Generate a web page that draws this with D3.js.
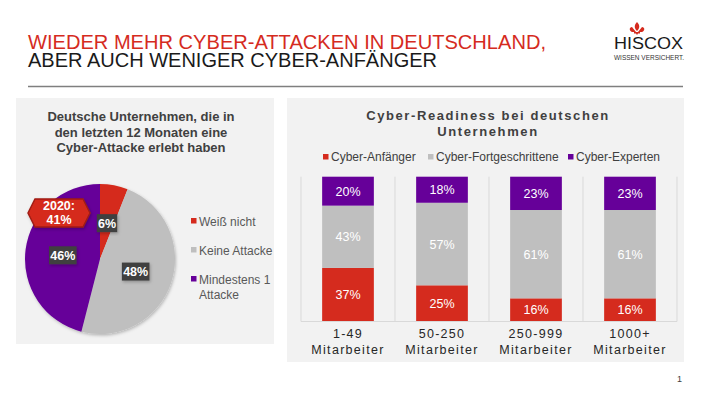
<!DOCTYPE html>
<html>
<head>
<meta charset="utf-8">
<script src="https://cdn.jsdelivr.net/npm/d3@7"></script>
<style>
  html, body { margin: 0; padding: 0; background: #fff; }
  svg { display: block; font-family: "Liberation Sans", Arial, sans-serif; }
</style>
</head>
<body>
<svg id="chart" width="710" height="399"></svg>
<script>
// pie: share of companies with a cyber attack in last 12 months
const pieLabels = ['Weiß nicht', 'Keine Attacke', 'Mindestens 1 Attacke'];
const pieValues = [6, 48, 46];
const pieColors = ['#d52b1e', '#bfbfbf', '#660099'];

// stacked bars: cyber readiness by company size
const sizeClasses = ['1-49', '50-250', '250-999', '1000+'];
const readinessSeries = ['Cyber-Anfänger', 'Cyber-Fortgeschrittene', 'Cyber-Experten'];
const anfaenger = [37, 25, 16, 16];
const fortgeschrittene = [43, 57, 61, 61];
const experten = [20, 18, 23, 23];
const barColors = ['#d52b1e', '#bfbfbf', '#660099'];

const svg = d3.select('#chart');

// header
svg.append('text').attr('x', 28).attr('y', 49)
  .attr('font-size', 20).attr('fill', '#d52b1e')
  .attr('textLength', 518).attr('lengthAdjust', 'spacingAndGlyphs')
  .text('WIEDER MEHR CYBER-ATTACKEN IN DEUTSCHLAND,');
svg.append('text').attr('x', 28).attr('y', 67)
  .attr('font-size', 20).attr('fill', '#1a1a1a')
  .attr('textLength', 409).attr('lengthAdjust', 'spacingAndGlyphs')
  .text('ABER AUCH WENIGER CYBER-ANFÄNGER');
svg.append('line').attr('x1', 28).attr('x2', 683).attr('y1', 86.5).attr('y2', 86.5)
  .attr('stroke', '#7f7f7f').attr('stroke-width', 1.5);

// logo
const logo = svg.append('g');
logo.append('path')
  .attr('d', 'M637,22 C634,25 634,28 637,31 C640,28 640,25 637,22 Z M632,27 C629,27 629,31 632,32 L636,32 Z M642,27 C645,27 645,31 642,32 L638,32 Z M634,32 L640,32 L640,33.5 L634,33.5 Z M636,33.5 L638,33.5 L637,35 Z')
  .attr('fill', '#d52b1e');
logo.append('text').attr('x', 614).attr('y', 49)
  .attr('font-size', 16).attr('fill', '#1a1a1a')
  .attr('textLength', 69).attr('lengthAdjust', 'spacingAndGlyphs')
  .text('HISCOX');
logo.append('text').attr('x', 614).attr('y', 60)
  .attr('font-size', 7.5).attr('fill', '#333')
  .attr('textLength', 70).attr('lengthAdjust', 'spacingAndGlyphs')
  .text('WISSEN VERSICHERT.');

// soft shadow for pie and label boxes
const defs = svg.append('defs');
const sh = defs.append('filter').attr('id', 'shadow').attr('x', '-20%').attr('y', '-20%').attr('width', '140%').attr('height', '140%');
sh.append('feDropShadow').attr('dx', 1).attr('dy', 1.5).attr('stdDeviation', 1.5).attr('flood-color', '#000').attr('flood-opacity', 0.25);

// panels
svg.append('rect').attr('x', 16).attr('y', 98).attr('width', 258).attr('height', 246).attr('fill', '#f2f2f2');
svg.append('rect').attr('x', 287).attr('y', 98).attr('width', 397).attr('height', 264).attr('fill', '#f2f2f2');

// ---- pie ----
const pieTitle = ['Deutsche Unternehmen, die in', 'den letzten 12 Monaten eine', 'Cyber-Attacke erlebt haben'];
svg.append('g').selectAll('text').data(pieTitle).join('text')
  .attr('x', 141).attr('y', (d, i) => 121 + i * 15.5)
  .attr('text-anchor', 'middle').attr('font-size', 13).attr('font-weight', 'bold')
  .attr('fill', '#404040').text(d => d);

const radius = 75;
const pieG = svg.append('g').attr('transform', 'translate(100,259)');
const pie = d3.pie().sort(null).value(d => d)(pieValues);
const arc = d3.arc().innerRadius(0).outerRadius(radius);
pieG.append('g').attr('filter', 'url(#shadow)')
  .selectAll('path').data(pie).join('path')
  .attr('d', arc).attr('fill', (d, i) => pieColors[i]);

pie.forEach(d => {
  const [cx, cy] = arc.centroid(d);
  const label = d.data + '%';
  const w = label.length * 7.2 + 6;
  const g = pieG.append('g').attr('transform', `translate(${cx},${cy + 1})`);
  g.append('rect').attr('x', -w / 2).attr('y', -9).attr('width', w).attr('height', 18)
    .attr('fill', '#404040').attr('filter', 'url(#shadow)');
  g.append('text').attr('y', 4.5).attr('text-anchor', 'middle')
    .attr('font-size', 12.5).attr('font-weight', 'bold').attr('fill', '#fff').text(label);
});

// 2020 callout
const callout = svg.append('g').attr('transform', 'translate(59,213)');
callout.append('path')
  .attr('d', 'M-31,0 L-24,-14 L24,-14 L31,0 L24,14 L-24,14 Z')
  .attr('fill', '#d52b1e').attr('stroke', '#a11d14').attr('stroke-width', 1.5)
  .attr('filter', 'url(#shadow)');
callout.append('text').attr('y', -3).attr('text-anchor', 'middle')
  .attr('font-size', 12.5).attr('font-weight', 'bold').attr('fill', '#fff').text('2020:');
callout.append('text').attr('y', 11).attr('text-anchor', 'middle')
  .attr('font-size', 12.5).attr('font-weight', 'bold').attr('fill', '#fff').text('41%');

// pie legend
const pieLegendRows = [['Weiß nicht'], ['Keine Attacke'], ['Mindestens 1', 'Attacke']];
const pieLegendY = [221, 250, 279];
const pl = svg.append('g');
pieLegendRows.forEach((lines, i) => {
  pl.append('rect').attr('x', 191).attr('y', pieLegendY[i] - 3).attr('width', 5.5).attr('height', 5.5)
    .attr('fill', pieColors[i]);
  lines.forEach((t, j) => {
    pl.append('text').attr('x', 199).attr('y', pieLegendY[i] + 4.5 + j * 15)
      .attr('font-size', 12).attr('fill', '#595959').text(t);
  });
});

// ---- stacked bars ----
const barTitle = ['Cyber-Readiness bei deutschen', 'Unternehmen'];
svg.append('g').selectAll('text').data(barTitle).join('text')
  .attr('x', 488).attr('y', (d, i) => 120 + i * 15.5)
  .attr('text-anchor', 'middle').attr('font-size', 13).attr('font-weight', 'bold')
  .attr('letter-spacing', 1.6).attr('fill', '#404040').text(d => d);

const legendX = [323, 428, 568];
const bl = svg.append('g');
readinessSeries.forEach((s, i) => {
  bl.append('rect').attr('x', legendX[i]).attr('y', 154).attr('width', 5.5).attr('height', 5.5)
    .attr('fill', barColors[i]);
  bl.append('text').attr('x', legendX[i] + 8).attr('y', 160.5)
    .attr('font-size', 12).attr('fill', '#404040').text(s);
});

const plot = { left: 301, right: 677, top: 176.7, bottom: 321.5 };
const x = d3.scaleBand().domain(sizeClasses).range([plot.left, plot.right]).paddingInner(0.45).paddingOuter(0.225);
const y = d3.scaleLinear().domain([0, 100]).range([plot.bottom, plot.top]);

const rows = sizeClasses.map((c, i) => ({
  cat: c, 'Cyber-Anfänger': anfaenger[i], 'Cyber-Fortgeschrittene': fortgeschrittene[i], 'Cyber-Experten': experten[i]
}));
const stack = d3.stack().keys(readinessSeries)(rows);

// category separators
const step = x.step();
const seps = sizeClasses.map(c => x(c) - x.paddingOuter() * step).concat([plot.right]);
svg.append('g').selectAll('line').data(seps).join('line')
  .attr('x1', d => d).attr('x2', d => d).attr('y1', plot.top).attr('y2', plot.bottom)
  .attr('stroke', '#d9d9d9').attr('stroke-width', 1);

const layers = svg.append('g').selectAll('g').data(stack).join('g')
  .attr('fill', (d, i) => barColors[i]);
layers.selectAll('rect').data(d => d).join('rect')
  .attr('x', d => x(d.data.cat)).attr('width', x.bandwidth())
  .attr('y', d => y(d[1])).attr('height', d => y(d[0]) - y(d[1]));

stack.forEach(layer => {
  svg.append('g').selectAll('text').data(layer).join('text')
    .attr('x', d => x(d.data.cat) + x.bandwidth() / 2)
    .attr('y', d => (y(d[0]) + y(d[1])) / 2 + 4.5)
    .attr('text-anchor', 'middle').attr('font-size', 12.5).attr('fill', '#fff')
    .text(d => (d[1] - d[0]) + '%');
});

// axis
const axis = svg.append('g').attr('transform', `translate(0,${plot.bottom})`)
  .call(d3.axisBottom(x).tickSize(0).tickPadding(0).tickFormat(''));
axis.select('.domain').attr('stroke', '#d9d9d9').attr('d', `M${plot.left},0H${plot.right}`);
axis.selectAll('.tick').each(function(d) {
  const t = d3.select(this);
  t.append('text').attr('y', 16.5).attr('text-anchor', 'middle').attr('font-size', 12.5)
    .attr('letter-spacing', 1.3).attr('fill', '#262626').text(d);
  t.append('text').attr('y', 32).attr('text-anchor', 'middle').attr('font-size', 12.5)
    .attr('letter-spacing', 1.3).attr('fill', '#262626').text('Mitarbeiter');
});

svg.append('text').attr('x', 682).attr('y', 382).attr('text-anchor', 'end')
  .attr('font-size', 9).attr('fill', '#404040').text('1');
</script>
</body>
</html>
